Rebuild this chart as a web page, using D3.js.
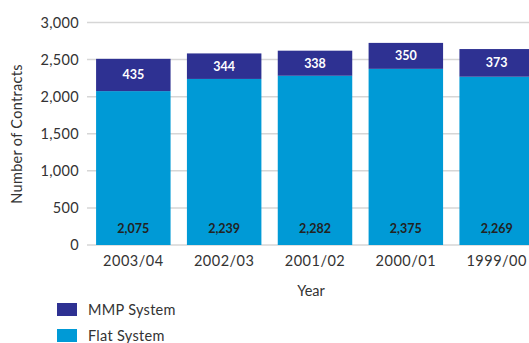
<!DOCTYPE html>
<html>
<head>
<meta charset="utf-8">
<script src="https://cdn.jsdelivr.net/npm/d3@7"></script>
<style>
  html, body { margin: 0; padding: 0; background: #fff; }
  svg { display: block; }
  text { font-family: Lato, "Open Sans", sans-serif; }
</style>
</head>
<body>
<div id="chart"></div>
<script>
// Contracts by year, split by payment system
const years = ["2003/04", "2002/03", "2001/02", "2000/01", "1999/00"];
const flatSystem = [2075, 2239, 2282, 2375, 2269];
const mmpSystem = [435, 344, 338, 350, 373];
const yTicks = [0, 500, 1000, 1500, 2000, 2500, 3000];
const seriesNames = ["MMP System", "Flat System"];

const W = 529, H = 343;
const colors = { mmp: "#2e3192", flat: "#009ad6" };

const svg = d3.select("#chart").append("svg")
  .attr("width", W).attr("height", H);

const x = d3.scaleBand()
  .domain(years)
  .range([87, 543])
  .paddingInner(0.18)
  .paddingOuter(0.1);

const y = d3.scaleLinear()
  .domain([0, 3000])
  .range([245, 22.5]);

// Gridlines
svg.append("g")
  .selectAll("line")
  .data(yTicks)
  .join("line")
  .attr("x1", 87).attr("x2", W)
  .attr("y1", d => y(d)).attr("y2", d => y(d))
  .attr("stroke", "#d6d6d6")
  .attr("stroke-width", 1.5);

// Y axis labels
const yAxis = d3.axisLeft(y)
  .tickValues(yTicks)
  .tickFormat(d3.format(","))
  .tickSize(0)
  .tickPadding(0);
const yg = svg.append("g").attr("transform", "translate(79,0)").call(yAxis);
yg.select(".domain").remove();
yg.selectAll("text")
  .attr("font-size", 14.5)
  .attr("letter-spacing", 0.3)
  .attr("fill", "#333")
  .attr("font-family", "Lato, 'Open Sans', sans-serif");

// X axis labels
const xAxis = d3.axisBottom(x).tickSize(0).tickPadding(0);
const xg = svg.append("g").attr("transform", "translate(0,256)").call(xAxis);
xg.select(".domain").remove();
xg.selectAll("text")
  .attr("font-size", 14.5)
  .attr("letter-spacing", 0.5)
  .attr("fill", "#333")
  .attr("font-family", "Lato, 'Open Sans', sans-serif");

const rows = years.map((yr, i) => ({ yr, flat: flatSystem[i], mmp: mmpSystem[i] }));

// Flat system segments
svg.append("g")
  .selectAll("rect")
  .data(rows)
  .join("rect")
  .attr("x", d => x(d.yr))
  .attr("width", x.bandwidth())
  .attr("y", d => y(d.flat))
  .attr("height", d => y(0) - y(d.flat))
  .attr("fill", colors.flat);

// MMP system segments stacked on top
svg.append("g")
  .selectAll("rect")
  .data(rows)
  .join("rect")
  .attr("x", d => x(d.yr))
  .attr("width", x.bandwidth())
  .attr("y", d => y(d.flat + d.mmp))
  .attr("height", d => y(d.flat) - y(d.flat + d.mmp))
  .attr("fill", colors.mmp);

const fmt = d3.format(",");

// Value labels
svg.append("g")
  .selectAll("text")
  .data(rows)
  .join("text")
  .attr("x", d => x(d.yr) + x.bandwidth() / 2)
  .attr("y", d => (y(d.flat) + y(d.flat + d.mmp)) / 2 + 4.5)
  .attr("text-anchor", "middle")
  .attr("font-size", 12.5)
  .attr("font-weight", "bold")
  .attr("fill", "#fff")
  .text(d => fmt(d.mmp));

svg.append("g")
  .selectAll("text")
  .data(rows)
  .join("text")
  .attr("x", d => x(d.yr) + x.bandwidth() / 2)
  .attr("y", y(0) - 12.5)
  .attr("text-anchor", "middle")
  .attr("font-size", 12.5)
  .attr("font-weight", "bold")
  .attr("fill", "#222")
  .text(d => fmt(d.flat));

// Axis titles
svg.append("text")
  .attr("transform", "translate(22,134) rotate(-90)")
  .attr("text-anchor", "middle")
  .attr("font-size", 14.5)
  .attr("letter-spacing", 0.3)
  .attr("fill", "#333")
  .text("Number of Contracts");

svg.append("text")
  .attr("x", 311)
  .attr("y", 296)
  .attr("text-anchor", "middle")
  .attr("font-size", 14.5)
  .attr("fill", "#333")
  .text("Year");

// Legend
const legend = svg.append("g")
  .selectAll("g")
  .data(seriesNames)
  .join("g")
  .attr("transform", (d, i) => `translate(57,${303 + i * 26})`);
legend.append("rect")
  .attr("width", 20).attr("height", 13)
  .attr("fill", (d, i) => i === 0 ? colors.mmp : colors.flat);
legend.append("text")
  .attr("x", 31).attr("y", 11.5)
  .attr("font-size", 14.5)
  .attr("letter-spacing", 0.3)
  .attr("fill", "#333")
  .text(d => d);
</script>
</body>
</html>
